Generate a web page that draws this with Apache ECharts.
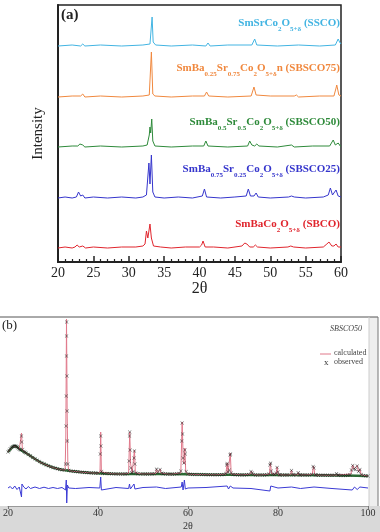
<!DOCTYPE html>
<html>
<head>
<meta charset="utf-8">
<script src="https://cdn.jsdelivr.net/npm/echarts@6/dist/echarts.min.js"></script>
<style>
    html, body { margin: 0; padding: 0; background: #fff; }
    #main { width: 380px; height: 532px; }
</style>
</head>
<body>
<div id="main"></div>
<script>
// (a) XRD patterns, [2theta, intensity a.u.], each above its own baseline
var sbco = [[20,0],[21,1],[22,0],[22.4,1],[22.7,3],[23.0,1],[23.5,2],[23.9,0],[25,1],[27,0],[29,1],[31,1],[32,2],[32.3,4],[32.5,17],[32.7,10],[33.0,24],[33.2,10],[33.5,2],[34.5,1],[36,0],[38,1],[40,1],[40.3,3],[40.5,7],[40.8,1],[42,1],[44,0],[46,2],[46.4,5],[46.7,4],[47.1,1],[47.6,1],[47.9,3],[48.2,1],[50,0],[52.5,1],[52.9,2],[53.3,1],[55,0],[57.5,1],[58.0,4],[58.3,6],[58.7,2],[59.0,2],[59.3,4],[59.6,1],[60,1]];
var sbsco25 = [[20,0],[21,1],[22,0],[22.6,1],[22.9,6],[23.2,2],[23.5,3],[23.8,0],[25,1],[27,0],[29,1],[31,0],[32,1],[32.5,3],[32.85,35],[33.0,14],[33.2,43],[33.4,6],[33.7,1],[35,0],[37,1],[39,0],[40.4,2],[40.7,9],[41,1],[43,0],[45,1],[46.6,2],[46.9,9],[47.2,2],[47.7,2],[48.0,5],[48.3,1],[50,0],[52.6,1],[53.0,2],[53.4,1],[55,0],[57.5,1],[58.2,3],[58.5,10],[58.8,3],[59.0,3],[59.3,8],[59.6,2],[60,1]];
var sbsco50 = [[20,0],[22,1],[22.8,1],[23.1,3],[23.3,1],[23.5,2],[23.8,0],[26,1],[29,0],[32,1],[32.6,2],[32.9,12],[33.0,20],[33.1,14],[33.25,28],[33.4,6],[33.7,1],[36,0],[39,1],[40.6,1],[40.9,6],[41.2,1],[44,0],[46.8,1],[47.1,6],[47.4,2],[47.8,1],[48.1,3],[48.4,1],[51,0],[53.0,2],[53.4,0],[56,1],[58.4,1],[58.9,7],[59.2,2],[59.4,2],[59.6,4],[59.9,1],[60,1]];
var sbsco75 = [[20,0],[22,1],[23.2,1],[23.5,3],[23.8,0],[26,1],[29,0],[32,1],[32.9,2],[33.2,45],[33.4,3],[33.7,1],[36,0],[39,1],[40.7,1],[41.0,5],[41.3,1],[44,0],[47.3,1],[47.7,10],[48.0,2],[50,1],[53.4,1],[53.7,2],[54,0],[57,1],[59.0,1],[59.3,9],[59.4,12],[59.7,2],[60,1]];
var ssco = [[20,0],[22,1],[23.2,0],[23.5,2],[23.8,0],[26,1],[29,0],[32,1],[33.0,2],[33.3,29],[33.45,4],[33.8,1],[36,0],[39,1],[40.9,0],[41.2,3],[41.5,0],[44,1],[47.4,1],[47.8,7],[48.1,1],[51,0],[54,1],[57,0],[59.2,1],[59.6,7],[59.8,4],[60,2]];

var patterns = [sbco, sbsco25, sbsco50, sbsco75, ssco];
var patternNames = ['SBCO', 'SBSCO25', 'SBSCO50', 'SBSCO75', 'SSCO'];
var patternLabels = [
    '{m|SmBaCo}{s|2}{m|O}{s|5+δ}{m| (SBCO)}',
    '{m|SmBa}{s|0.75}{m|Sr}{s|0.25}{m|Co}{s|2}{m|O}{s|5+δ}{m| (SBSCO25)}',
    '{m|SmBa}{s|0.5}{m|Sr}{s|0.5}{m|Co}{s|2}{m|O}{s|5+δ}{m| (SBSCO50)}',
    '{m|SmBa}{s|0.25}{m|Sr}{s|0.75}{m|Co}{s|2}{m|O}{s|5+δ}{m|n (SBSCO75)}',
    '{m|SmSrCo}{s|2}{m|O}{s|5+δ}{m| (SSCO)}'
];
var stackOffsets = [14, 64, 115, 165, 216];
var colors = ['#e0252d', '#3535cc', '#2e8a3a', '#f0883e', '#42b4e2'];
var labelY = [228, 173, 126, 72, 27];

// (b) Rietveld fit of SBSCO50, [2theta, counts]
var calcProfile = [[20,540],[20.5,570],[21,590],[21.5,600],[22,590],[22.5,565],[22.8,555],[23.0,730],[23.2,560],[23.5,540],[24,530],[25,500],[26,470],[27,440],[28,420],[29,400],[30,385],[31,372],[32,362],[32.7,360],[32.85,700],[33.0,1870],[33.15,900],[33.3,420],[33.5,355],[34,350],[36,340],[38,332],[40,328],[40.45,340],[40.6,740],[40.75,340],[41,326],[43,322],[45,320],[46.8,325],[47.05,740],[47.25,420],[47.6,330],[47.9,340],[48.1,560],[48.3,330],[50,320],[52.8,325],[53.0,370],[53.2,330],[53.6,330],[53.8,370],[54.0,328],[56,318],[58.4,330],[58.7,840],[58.95,450],[59.1,420],[59.3,580],[59.5,340],[60,318],[63,314],[66,312],[68.4,318],[68.7,430],[68.9,330],[69.2,340],[69.4,530],[69.6,320],[72,312],[73.8,318],[74.1,350],[74.4,315],[76,310],[78.1,318],[78.3,430],[78.6,320],[79.6,320],[79.8,390],[80.1,312],[82,310],[82.8,315],[83.0,360],[83.2,312],[84.3,312],[84.5,335],[84.7,310],[87.6,315],[87.9,400],[88.2,310],[91,308],[93,310],[93.2,325],[93.4,308],[96.2,320],[96.6,410],[96.9,370],[97.3,370],[97.6,405],[97.9,340],[98.2,370],[98.5,310],[100,300]];
var observed = [[20,540],[20.25,555],[20.5,572],[20.75,585],[21,592],[21.25,598],[21.5,603],[21.75,598],[22,592],[22.25,580],[22.5,568],[22.75,560],[23,700],[23.05,640],[23.25,565],[23.5,545],[23.75,538],[24,530],[24.5,516],[25,502],[25.5,486],[26,472],[26.5,458],[27,445],[27.5,432],[28,422],[28.5,410],[29,402],[29.5,392],[30,385],[30.5,378],[31,372],[31.5,366],[32,362],[32.5,360],[32.8,420],[32.9,800],[32.95,1100],[33.0,1500],[33.02,1700],[33.04,1840],[33.1,1300],[33.15,950],[33.2,650],[33.3,420],[33.5,356],[34,350],[34.5,347],[35,344],[35.5,342],[36,340],[36.5,338],[37,336],[37.5,334],[38,332],[38.5,331],[39,330],[39.5,329],[40,328],[40.5,520],[40.6,700],[40.65,600],[40.8,345],[41,326],[41.5,325],[42,324],[42.5,323],[43,322],[43.5,322],[44,321],[44.5,320],[45,320],[45.5,320],[46,321],[46.5,323],[46.9,450],[47.0,700],[47.05,740],[47.15,560],[47.3,380],[47.5,332],[47.8,345],[48.0,480],[48.1,550],[48.2,420],[48.4,330],[48.8,322],[49.5,320],[50,320],[50.5,319],[51,319],[51.5,320],[52,321],[52.5,323],[53,368],[53.3,335],[53.8,365],[54.2,328],[54.5,322],[55,320],[55.5,319],[56,318],[56.5,318],[57,320],[57.5,322],[58,326],[58.4,350],[58.6,650],[58.7,830],[58.8,720],[58.9,480],[59.1,430],[59.3,560],[59.4,520],[59.6,345],[60,320],[60.5,318],[61,316],[61.5,316],[62,315],[62.5,315],[63,314],[63.5,314],[64,313],[64.5,313],[65,313],[65.5,312],[66,312],[66.5,312],[67,312],[67.5,313],[68,314],[68.4,325],[68.6,410],[68.7,425],[68.9,340],[69.2,360],[69.35,510],[69.45,520],[69.6,330],[70,314],[70.5,312],[71,312],[71.5,311],[72,311],[72.5,311],[73,312],[73.5,314],[74,345],[74.3,330],[74.5,315],[75,311],[75.5,310],[76,310],[76.5,310],[77,311],[77.5,312],[78,320],[78.2,410],[78.35,428],[78.5,350],[78.8,318],[79.2,316],[79.6,330],[79.8,385],[80,340],[80.3,312],[80.5,310],[81,310],[81.5,309],[82,309],[82.5,310],[83,355],[83.3,315],[83.5,310],[84,310],[84.5,332],[84.8,310],[85,309],[85.5,309],[86,309],[86.5,309],[87,310],[87.5,316],[87.8,395],[88,380],[88.3,312],[88.5,309],[89,308],[89.5,308],[90,308],[90.5,308],[91,308],[91.5,307],[92,307],[92.5,308],[93,322],[93.3,309],[93.5,307],[94,306],[94.5,306],[95,306],[95.5,307],[96,312],[96.3,360],[96.6,405],[96.9,370],[97.2,365],[97.6,400],[97.9,345],[98.2,365],[98.5,315],[99,305],[99.5,302],[100,300]];
var background = [[20,540],[21,590],[21.5,600],[22,590],[23,555],[24,530],[25,500],[26,470],[27,442],[28,420],[29,401],[30,385],[31,372],[32,362],[34,350],[36,340],[38,332],[40,328],[43,322],[46,320],[50,320],[55,319],[60,318],[65,313],[70,312],[75,311],[80,310],[85,309],[90,308],[95,306],[100,300]];
var difference = [[20,0],[20.5,15],[21,-10],[21.5,20],[22,-15],[22.5,10],[22.9,-10],[23.0,-90],[23.1,40],[23.5,10],[24,-10],[24.5,15],[25,-5],[26,10],[27,-5],[28,8],[29,-5],[30,5],[31,-5],[32,5],[32.8,-20],[32.95,80],[33.05,-150],[33.2,30],[33.5,0],[35,-5],[38,5],[40.4,0],[40.6,110],[40.75,-20],[41,0],[44,5],[46.8,-5],[47.0,40],[47.2,-10],[47.6,0],[48.0,40],[48.2,-10],[50,5],[53,10],[55,-5],[58.5,10],[58.7,60],[58.9,-20],[59.2,80],[59.4,-10],[60,0],[64,5],[68.7,20],[69.0,-10],[69.4,20],[70,0],[74,-5],[78.2,-30],[78.4,20],[80,0],[83,10],[85,-5],[88,10],[92,-5],[96.5,-20],[97,10],[97.6,-15],[98.2,10],[100,0]];
var differenceOffset = 180;

var serif = 'Liberation Serif';

var chartExecute = function () {
    var myChart = echarts.init(document.getElementById('main'));

    var series = [];
    var graphics = [];

    patterns.forEach(function (pts, i) {
        series.push({
            name: patternNames[i],
            type: 'line',
            xAxisIndex: 0,
            yAxisIndex: 0,
            showSymbol: false,
            silent: true,
            data: pts.map(function (p) { return [p[0], p[1] + stackOffsets[i]]; }),
            lineStyle: { color: colors[i], width: 1 }
        });
        graphics.push({
            type: 'text',
            right: 40,
            top: labelY[i] - 9,
            style: {
                text: patternLabels[i],
                fill: colors[i],
                rich: {
                    m: { fontFamily: serif, fontWeight: 'bold', fontSize: 11, lineHeight: 18, fill: colors[i], verticalAlign: 'middle' },
                    s: { fontFamily: serif, fontWeight: 'bold', fontSize: 7, lineHeight: 7, fill: colors[i], verticalAlign: 'bottom' }
                }
            }
        });
    });

    series.push({
        name: 'background',
        type: 'line',
        xAxisIndex: 1,
        yAxisIndex: 1,
        showSymbol: false,
        silent: true,
        data: background,
        lineStyle: { color: '#2d6b35', width: 2.5 },
        z: 2
    });
    series.push({
        name: 'calculated',
        type: 'line',
        xAxisIndex: 1,
        yAxisIndex: 1,
        showSymbol: false,
        silent: true,
        data: calcProfile,
        lineStyle: { color: '#e0788a', width: 1 },
        z: 3
    });
    series.push({
        name: 'observed',
        type: 'scatter',
        xAxisIndex: 1,
        yAxisIndex: 1,
        silent: true,
        symbol: 'path://M0 1L1 0L5 4L9 0L10 1L6 5L10 9L9 10L5 6L1 10L0 9L4 5Z',
        symbolSize: 3.5,
        data: observed,
        itemStyle: { color: '#151515' },
        z: 4
    });
    series.push({
        name: 'difference',
        type: 'line',
        xAxisIndex: 1,
        yAxisIndex: 1,
        showSymbol: false,
        silent: true,
        data: difference.map(function (p) { return [p[0], p[1] + differenceOffset]; }),
        lineStyle: { color: '#3a3ad4', width: 1 },
        z: 3
    });

    // panel (b) frame, grey strip and texts
    graphics.push(
        { type: 'rect', left: 0, top: 506, z: -1, shape: { width: 380, height: 26 }, style: { fill: '#d9d9d9' } },
        { type: 'rect', left: 369, top: 317, z: -1, shape: { width: 9, height: 189 }, style: { fill: '#efefef' } },
        { type: 'line', shape: { x1: 0, y1: 317, x2: 378, y2: 317 }, style: { stroke: '#555', lineWidth: 1 } },
        { type: 'line', shape: { x1: 378, y1: 317, x2: 378, y2: 506 }, style: { stroke: '#777', lineWidth: 1 } },
        { type: 'line', shape: { x1: 369, y1: 317, x2: 369, y2: 506 }, style: { stroke: '#ccc', lineWidth: 1 } },
        { type: 'text', left: 61, top: 8, style: { text: '(a)', font: 'bold 15px "Liberation Serif"', fill: '#222' } },
        { type: 'text', left: 2, top: 319, style: { text: '(b)', font: '13px "Liberation Serif"', fill: '#222' } },
        { type: 'text', left: 330, top: 325, style: { text: 'SBSCO50', font: 'italic 8px "Liberation Serif"', fill: '#444' } },
        { type: 'line', shape: { x1: 320, y1: 354, x2: 331, y2: 354 }, style: { stroke: '#e0788a', lineWidth: 1 } },
        { type: 'text', left: 334, top: 349, style: { text: 'calculated', font: '8px "Liberation Serif"', fill: '#444' } },
        { type: 'text', left: 324, top: 358, style: { text: 'x', font: '9px "Liberation Serif"', fill: '#333' } },
        { type: 'text', left: 334, top: 358, style: { text: 'observed', font: '8px "Liberation Serif"', fill: '#444' } }
    );

    var option = {
        animation: false,
        grid: [
            { left: 58, right: 39, top: 5, bottom: 270, show: true, borderColor: '#222', borderWidth: 1.5 },
            { left: 7, right: 12, top: 317, bottom: 26 }
        ],
        xAxis: [
            {
                gridIndex: 0,
                type: 'value',
                min: 20,
                max: 60,
                interval: 5,
                name: '2θ',
                nameLocation: 'middle',
                nameGap: 17,
                nameTextStyle: { fontFamily: serif, fontSize: 16, color: '#222' },
                axisLine: { lineStyle: { color: '#222', width: 2 } },
                axisTick: { inside: true, length: 6, lineStyle: { color: '#222', width: 1.5 } },
                minorTick: { show: true, splitNumber: 5, length: 3, lineStyle: { color: '#222', width: 1.2 } },
                axisLabel: { fontFamily: serif, fontSize: 14, color: '#222', margin: 4 },
                splitLine: { show: false }
            },
            {
                gridIndex: 1,
                type: 'value',
                min: 20,
                max: 100,
                interval: 20,
                name: '2θ',
                nameLocation: 'middle',
                nameGap: 15,
                nameTextStyle: { fontFamily: serif, fontSize: 10, color: '#333' },
                axisLine: { lineStyle: { color: '#999', width: 1 } },
                axisTick: { length: 3, lineStyle: { color: '#777' } },
                axisLabel: { fontFamily: serif, fontSize: 10, color: '#333', margin: 2 },
                splitLine: { show: false }
            }
        ],
        yAxis: [
            {
                gridIndex: 0,
                type: 'value',
                min: 0,
                max: 257,
                name: 'Intensity',
                nameLocation: 'middle',
                nameGap: 12,
                nameTextStyle: { fontFamily: serif, fontSize: 15, color: '#222' },
                axisLine: { show: true, lineStyle: { color: '#222', width: 2 } },
                axisTick: { show: false },
                axisLabel: { show: false },
                splitLine: { show: false }
            },
            {
                gridIndex: 1,
                type: 'value',
                min: 0,
                max: 1890,
                show: false,
                splitLine: { show: false }
            }
        ],
        graphic: graphics,
        series: series
    };

    window.addEventListener("resize", function () {
        myChart.resize();
    });
    myChart.setOption(option);
}();
</script>
</body>
</html>
